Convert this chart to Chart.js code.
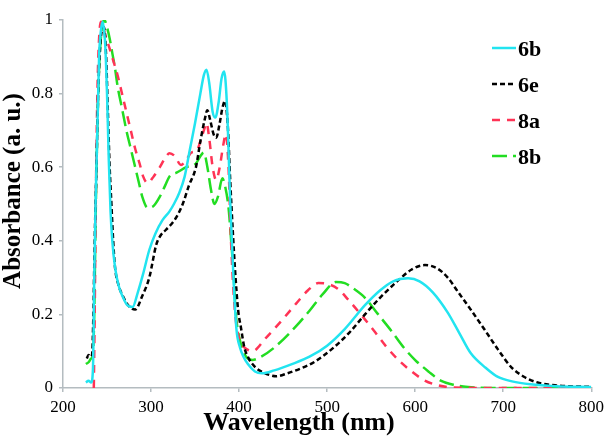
<!DOCTYPE html>
<html>
<head>
<meta charset="utf-8">
<script src="https://cdn.jsdelivr.net/npm/chart.js@4.4.1/dist/chart.umd.min.js"></script>
<style>
  html, body { margin: 0; padding: 0; background: #fff; }
  #wrap { width: 609px; height: 440px; }
</style>
</head>
<body>
<div id="wrap"><canvas id="chart"></canvas></div>
<script>
// values
const seriesNames = ['6b', '6e', '8a', '8b'];

const wl6b = [226, 229, 232, 234, 235.5, 237, 239, 241, 243, 245, 248, 250, 252, 254, 256, 259, 263, 268, 273, 279,
  285, 291, 298, 305, 313, 321, 326, 332, 338, 344, 350, 356, 360, 363, 366, 370, 373, 377, 380, 383,
  386, 388, 390, 392, 394, 397, 401, 405, 410, 418, 426, 440, 460, 480, 500, 520, 543, 560, 575, 592,
  605, 620, 637, 650, 663, 680, 694, 710, 731, 760, 800];
const abs6b = [0.015, 0.02, 0.015, 0.05, 0.3, 0.5, 0.7, 0.9, 0.97, 0.995, 0.93, 0.8, 0.62, 0.48, 0.4, 0.33, 0.28, 0.247, 0.225, 0.22,
  0.26, 0.31, 0.375, 0.42, 0.456, 0.48, 0.5, 0.53, 0.573, 0.647, 0.72, 0.8, 0.85, 0.865, 0.83, 0.75, 0.735, 0.78, 0.84, 0.86,
  0.78, 0.65, 0.5, 0.39, 0.28, 0.16, 0.11, 0.085, 0.065, 0.045, 0.04, 0.048, 0.065, 0.085, 0.115, 0.16, 0.225, 0.265, 0.29, 0.298,
  0.29, 0.26, 0.205, 0.15, 0.095, 0.055, 0.03, 0.018, 0.01, 0.005, 0.003];

const wl6e = [227, 229, 231, 233, 234.5, 236, 238, 240, 242, 244, 246.5, 249, 251, 253, 255, 257, 259, 263, 268, 274,
  282, 290, 298, 306, 311, 317, 323, 329, 336, 343, 351, 356, 361, 364, 367, 371, 374, 378, 381, 384,
  387, 390, 393, 396, 399, 402, 406, 411, 417, 425, 435, 442, 455, 470, 485, 505, 525, 543, 560, 581,
  596, 611, 625, 637, 649, 664, 679, 694, 709, 724, 739, 760, 800];
const abs6e = [0.08, 0.09, 0.085, 0.09, 0.2, 0.4, 0.6, 0.8, 0.92, 0.97, 0.98, 0.9, 0.75, 0.6, 0.5, 0.4, 0.33, 0.28, 0.25, 0.225,
  0.213, 0.25, 0.3, 0.39, 0.415, 0.43, 0.445, 0.465, 0.5, 0.55, 0.6, 0.67, 0.73, 0.755, 0.73, 0.69, 0.68, 0.72, 0.76, 0.78,
  0.72, 0.56, 0.42, 0.3, 0.21, 0.166, 0.11, 0.08, 0.06, 0.045, 0.035, 0.032, 0.04, 0.053, 0.07, 0.105, 0.15, 0.2, 0.245, 0.293,
  0.322, 0.334, 0.325, 0.3, 0.26, 0.21, 0.158, 0.105, 0.057, 0.03, 0.015, 0.007, 0.003];

const wl8a = [235, 236, 237, 238, 239.5, 241, 243, 245, 248, 252, 257, 262, 267, 272, 277, 282, 287, 291, 296, 303,
  310, 316, 321, 327, 334, 340, 346, 352, 356, 360, 363, 366, 370, 374, 378, 382, 385, 388, 391, 394,
  397, 403, 409, 415, 430, 449, 465, 478, 490, 500, 512, 524, 540, 555, 568, 581, 596, 611, 625, 640,
  700, 800];
const abs8a = [0, 0.2, 0.45, 0.65, 0.85, 0.95, 0.995, 0.99, 0.96, 0.93, 0.89, 0.85, 0.8, 0.75, 0.7, 0.65, 0.61, 0.575, 0.557, 0.575,
  0.6, 0.625, 0.638, 0.63, 0.606, 0.62, 0.64, 0.645, 0.67, 0.7, 0.72, 0.68, 0.6, 0.565, 0.6, 0.66, 0.69, 0.6, 0.39, 0.25,
  0.17, 0.12, 0.105, 0.1, 0.135, 0.185, 0.23, 0.265, 0.285, 0.283, 0.27, 0.24, 0.195, 0.15, 0.11, 0.076, 0.045, 0.02, 0.008, 0.002,
  0, 0];

const wl8b = [226, 229, 232, 234, 235.5, 237, 239, 241, 243, 245, 247, 250, 253, 256, 259, 262, 267, 272, 277, 281,
  286, 290, 296, 303, 310, 316, 321, 329, 340, 351, 356, 360, 364, 368, 372, 376, 381, 384, 388, 391,
  394, 396, 400, 405, 408, 415, 425, 440, 464, 480, 495, 510, 520, 530, 543, 558, 573, 587, 600, 615,
  629, 645, 660, 700, 800];
const abs8b = [0.065, 0.07, 0.08, 0.09, 0.2, 0.45, 0.7, 0.87, 0.95, 0.99, 1.0, 0.98, 0.95, 0.91, 0.87, 0.82, 0.76, 0.7, 0.65, 0.61,
  0.56, 0.52, 0.49, 0.495, 0.52, 0.55, 0.575, 0.585, 0.6, 0.61, 0.63, 0.64, 0.6, 0.54, 0.5, 0.52, 0.57, 0.55, 0.49, 0.4,
  0.3, 0.21, 0.14, 0.1, 0.085, 0.076, 0.085, 0.11, 0.166, 0.21, 0.255, 0.288, 0.285, 0.27, 0.245, 0.2, 0.155, 0.11, 0.076, 0.045,
  0.02, 0.008, 0.003, 0, 0];

const xTicks = [200, 300, 400, 500, 600, 700, 800];
const yTicks = [0, 0.2, 0.4, 0.6, 0.8, 1];
const yTickLabels = ['0', '0.2', '0.4', '0.6', '0.8', '1'];

const axisGray = '#b4bcc0';
const serif = '"Liberation Serif", "Times New Roman", serif';

function points(xs, ys) {
  return xs.map((x, i) => ({ x: x, y: ys[i] }));
}

function line(label, xs, ys, color, dash, width) {
  return {
    label: label,
    data: points(xs, ys),
    borderColor: color,
    borderWidth: width,
    borderDash: dash,
    pointRadius: 0,
    fill: false,
    cubicInterpolationMode: 'monotone'
  };
}

// legend and axis titles drawn at the spots the picture has them
const sideLegend = {
  id: 'sideLegend',
  afterDraw(chart) {
    const ctx = chart.ctx;
    ctx.save();
    chart.data.datasets.forEach((ds, i) => {
      const y = 48 + i * 36;
      ctx.strokeStyle = ds.borderColor;
      ctx.lineWidth = ds.borderWidth;
      ctx.setLineDash(ds.borderDash);
      ctx.beginPath();
      ctx.moveTo(492, y);
      ctx.lineTo(516, y);
      ctx.stroke();
      ctx.setLineDash([]);
      ctx.fillStyle = '#000';
      ctx.font = 'bold 22px ' + serif;
      ctx.textBaseline = 'middle';
      ctx.textAlign = 'left';
      ctx.fillText(ds.label, 518, y + 2);
    });

    ctx.textAlign = 'center';
    ctx.textBaseline = 'middle';
    ctx.font = 'bold 26px ' + serif;
    ctx.fillText('Wavelength (nm)', 299, 423);
    ctx.font = 'bold 25px ' + serif;
    ctx.translate(14, 191);
    ctx.rotate(-Math.PI / 2);
    ctx.fillText('Absorbance (a. u.)', 0, 0);
    ctx.restore();
  }
};

new Chart(document.getElementById('chart'), {
  type: 'line',
  data: {
    datasets: [
      line(seriesNames[0], wl6b, abs6b, '#22e4f0', [], 2.5),
      line(seriesNames[1], wl6e, abs6e, '#000000', [5, 3], 2.5),
      line(seriesNames[2], wl8a, abs8a, '#ff3355', [8, 7], 2.5),
      line(seriesNames[3], wl8b, abs8b, '#22dd22', [15, 6], 2.5)
    ]
  },
  options: {
    responsive: true,
    maintainAspectRatio: false,
    animation: false,
    layout: { padding: { top: 20, right: 15, left: 0, bottom: 0 } },
    plugins: {
      legend: { display: false },
      tooltip: { enabled: false }
    },
    scales: {
      x: {
        type: 'linear',
        min: 200,
        max: 800,
        afterBuildTicks: (s) => { s.ticks = xTicks.map((v) => ({ value: v })); },
        afterFit: (s) => { s.height = 52; },
        ticks: { color: '#000', padding: 5, font: { family: serif, size: 17 } },
        grid: { drawOnChartArea: false, drawTicks: true, tickLength: 4, color: axisGray, lineWidth: 1.5 },
        border: { color: axisGray, width: 1.5 }
      },
      y: {
        min: 0,
        max: 1,
        afterBuildTicks: (s) => { s.ticks = yTicks.map((v) => ({ value: v })); },
        afterFit: (s) => { s.width = 63; },
        ticks: {
          color: '#000',
          padding: 6,
          font: { family: serif, size: 17 },
          callback: (v) => yTickLabels[yTicks.indexOf(v)]
        },
        grid: { drawOnChartArea: false, drawTicks: true, tickLength: 4, color: axisGray, lineWidth: 1.5 },
        border: { color: axisGray, width: 1.5 }
      }
    }
  },
  plugins: [sideLegend]
});
</script>
</body>
</html>
